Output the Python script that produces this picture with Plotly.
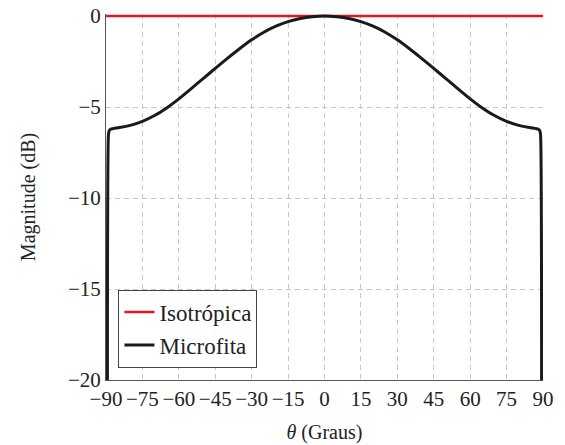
import plotly.graph_objects as go

# Angle (degrees) and magnitude (dB)
theta_half = [0, 5, 10, 15, 20, 25, 30, 35, 40, 45, 50, 55, 60, 65, 70, 75, 80, 85, 88, 88.7, 89.0, 89.3]
micro_half = [0, -0.04, -0.14, -0.31, -0.56, -0.89, -1.31, -1.80, -2.33, -2.88, -3.44, -4.00, -4.55,
              -5.05, -5.47, -5.79, -6.01, -6.14, -6.22, -6.3, -6.55, -40]

theta = [-t for t in theta_half[::-1]] + theta_half[1:]
microfita = micro_half[::-1] + micro_half[1:]

iso_theta = [-90, 90]
isotropica = [0, 0]

x_ticks = [-90, -75, -60, -45, -30, -15, 0, 15, 30, 45, 60, 75, 90]
y_ticks = [0, -5, -10, -15, -20]

def lab(v):
    return ("\u2212" + str(abs(v))) if v < 0 else str(v)

FONT = "Liberation Serif"

fig = go.Figure()
fig.add_trace(go.Scatter(x=iso_theta, y=isotropica, mode="lines", name="Isotrópica",
                         line=dict(color="#e8141e", width=2.6)))
fig.add_trace(go.Scatter(x=theta, y=microfita, mode="lines", name="Microfita",
                         line=dict(color="#1a1a1a", width=3, shape="spline", smoothing=0.6)))

axis_common = dict(showgrid=True, gridcolor="#c8c8c8", griddash="5px,4px", gridwidth=1,
                   showline=True, linecolor="#555555", linewidth=1, zeroline=False,
                   automargin=False, ticklabeloverflow="allow",
                   ticks="", tickfont=dict(family=FONT, size=21, color="#222222"))

fig.update_xaxes(range=[-90, 90], tickvals=x_ticks, ticktext=[lab(v) for v in x_ticks],
                 title=dict(text="<i>θ</i> (Graus)", font=dict(family=FONT, size=20, color="#222222"), standoff=14),
                 **axis_common)
fig.update_yaxes(range=[-20, 0.11], tickvals=y_ticks, ticktext=[lab(v) for v in y_ticks],
                 title=dict(text="Magnitude (dB)", font=dict(family=FONT, size=20, color="#222222"), standoff=26),
                 **axis_common)

fig.update_layout(
    width=565, height=445,
    margin=dict(l=105.5, r=21.5, t=13.5, b=64.5, autoexpand=False),
    plot_bgcolor="white", paper_bgcolor="white",
    showlegend=True,
    legend=dict(x=0.0285, y=0.034, xanchor="left", yanchor="bottom",
                bgcolor="white", bordercolor="#444444", borderwidth=1,
                font=dict(family=FONT, size=23, color="#222222"),
                tracegroupgap=0, itemwidth=30),
)

fig.write_html("out.html", config={"displayModeBar": False},
               post_script="document.body.style.margin='0';document.body.style.overflow='hidden';")
